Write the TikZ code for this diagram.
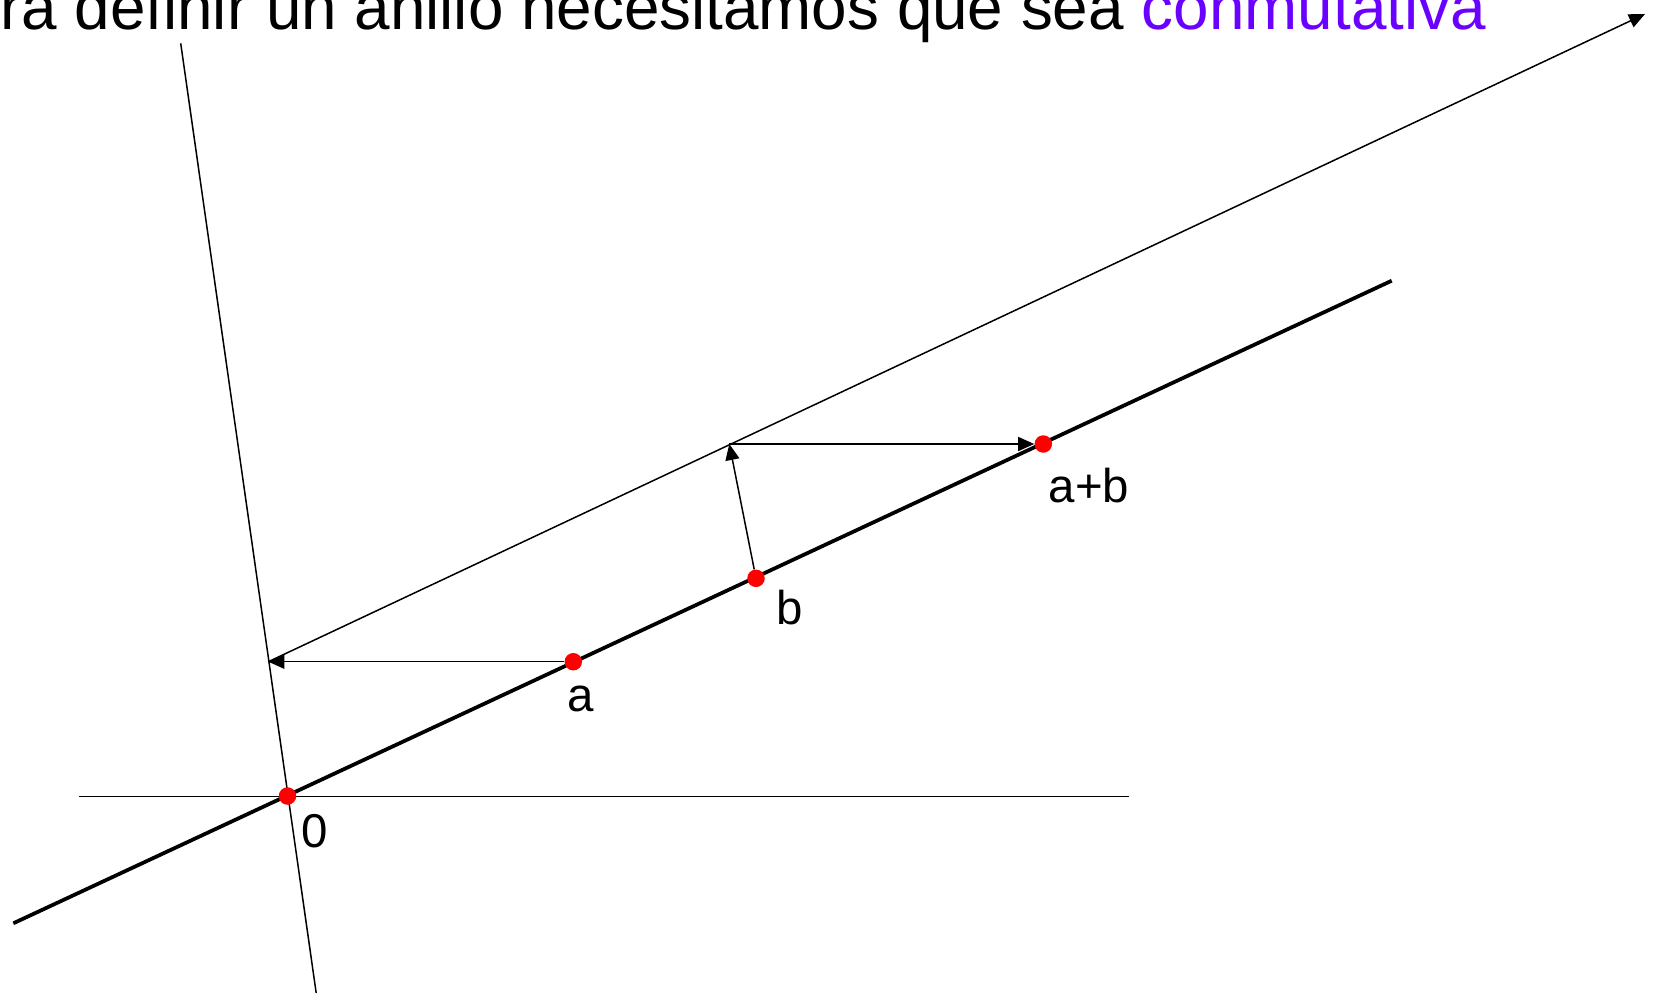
\documentclass[tikz,border=0pt]{standalone}
\usepackage{fontspec}
\setmainfont{Liberation Sans}
\usepackage{xcolor}
\usetikzlibrary{arrows.meta,positioning}
\definecolor{conmPurple}{HTML}{6A00FF}

\begin{document}
\begin{tikzpicture}[x=0.02cm,y=-0.02cm,
    dot/.style={circle, fill=red, inner sep=0pt, minimum size=0.35cm},
    lbl/.style={anchor=base, inner sep=0pt, font=\fontsize{27}{32}\selectfont},
    thinline/.style={line width=0.03cm},
    vec/.style={line width=0.03cm, -{Triangle[length=0.32cm,width=0.28cm]}}]
                \useasboundingbox (0,0) rectangle (1657,992);
                \node[anchor=base west, inner sep=0pt, font=\fontsize{36.3}{42}\selectfont] (title) at (0,29) {ra definir un anillo necesitamos que sea \textcolor{conmPurple}{conmutativa}};
                \coordinate (lineL) at (13.3,923.3);
                \coordinate (lineR) at (1391.7,280.7);
                \coordinate (horizL) at (79.3,796.7);
                \coordinate (horizR) at (1129.3,796.7);
                \coordinate (axisT) at (180.7,43.3);
                \coordinate (axisB) at (316.2,993);
                \coordinate (hitA) at (268.3,661.7);
                \coordinate (hitB) at (729.3,444);
                \coordinate (farTip) at (1645,14);
                \draw[thinline] (horizL) -- (horizR);
                \draw[thinline] (axisT) -- (axisB);
                \draw[line width=0.075cm] (lineL) -- (lineR);
                \draw[vec] (hitA) -- (farTip);
                \node[dot] (zero) at (287.5,796) {};
                \node[dot] (ptA) at (573.3,661.7) {};
                \node[dot] (ptB) at (756,578.3) {};
                \node[dot] (ptAB) at (1043.3,444) {};
                \node[lbl] (zeroLbl) at (315,847) {0};
                \node[lbl] (aLbl) at (580.7,711.7) {a};
                \node[lbl] (bLbl) at (790,624.5) {b};
                \node[lbl] (abLbl) at (1089,502) {a+b};
                \draw[vec] (ptA) -- (hitA);
                \draw[vec] (ptB) -- (hitB);
                \draw[vec] (hitB) -- (ptAB);
            \end{tikzpicture}
\end{document}
